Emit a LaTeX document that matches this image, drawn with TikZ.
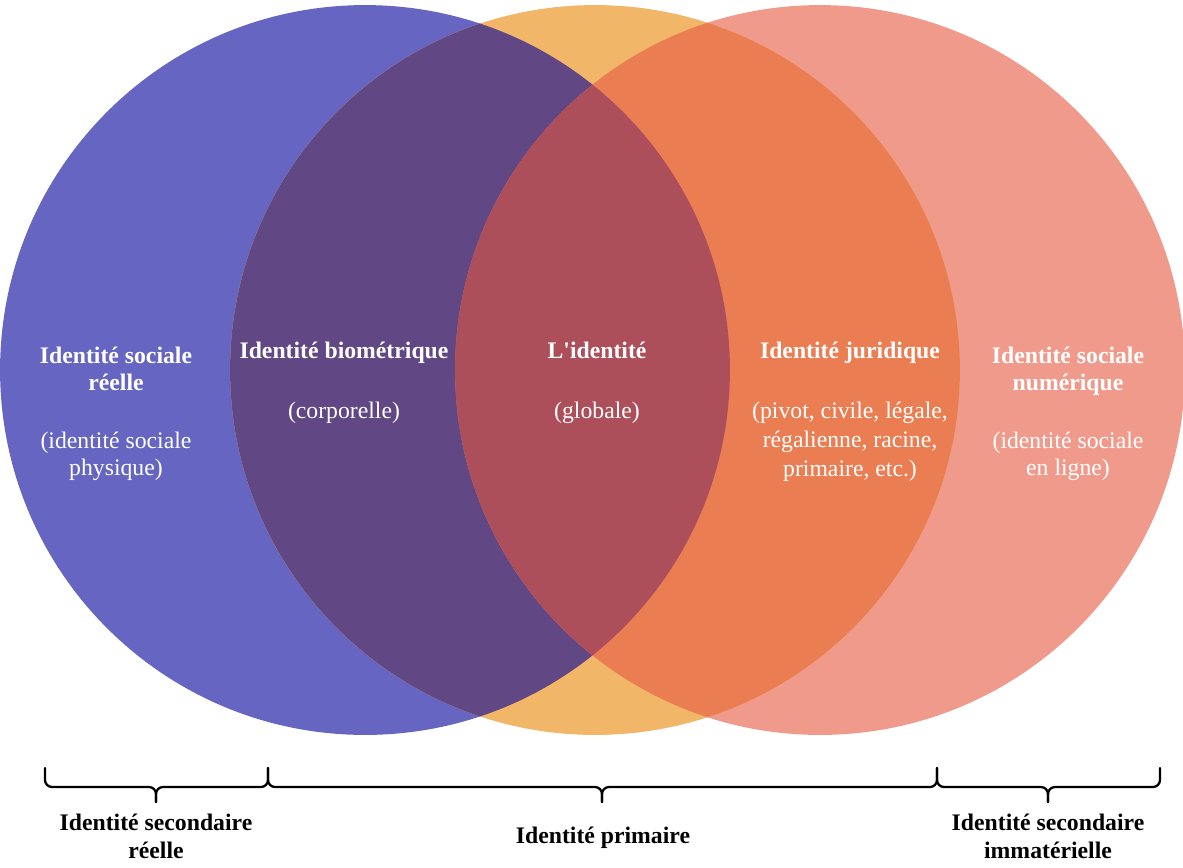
\documentclass[tikz,border=0pt]{standalone}
\usepackage{fontspec}
\setmainfont{Liberation Serif}
\definecolor{cBlue}{RGB}{102,102,194}
\definecolor{cPurple}{RGB}{97,71,132}
\definecolor{cOrange}{RGB}{242,182,104}
\definecolor{cRed}{RGB}{173,79,91}
\definecolor{cOrRed}{RGB}{235,125,82}
\definecolor{cSalmon}{RGB}{240,154,140}
\begin{document}
\begin{tikzpicture}[x=0.02cm,y=-0.02cm,
  intitle/.style={text=white,font=\bfseries\fontsize{13.5}{16}\selectfont,anchor=base,inner sep=0pt},
  insub/.style={text=white,font=\fontsize{13.5}{16}\selectfont,anchor=base,inner sep=0pt},
  outlabel/.style={text=black,font=\bfseries\fontsize{13.5}{16}\selectfont,anchor=base,inner sep=0pt},
  bracestyle/.style={draw=black,line width=1.3pt,rounded corners=4pt,line cap=round}]
\useasboundingbox (0,0) rectangle (1183,867);
\def\R{7.3cm}
% circle centres
\coordinate (cb) at (365,370);
\coordinate (co) at (595,370);
\coordinate (cs) at (820,370);
% base discs
\fill[cBlue] (cb) circle[radius=\R];
\fill[cSalmon] (cs) circle[radius=\R];
\fill[cOrange] (co) circle[radius=\R];
% overlaps
\begin{scope}
  \clip (cb) circle[radius=\R];
  \fill[cPurple] (co) circle[radius=\R];
\end{scope}
\begin{scope}
  \clip (cs) circle[radius=\R];
  \fill[cOrRed] (co) circle[radius=\R];
\end{scope}
\begin{scope}
  \clip (cb) circle[radius=\R];
  \clip (cs) circle[radius=\R];
  \fill[cRed] (co) circle[radius=\R];
\end{scope}
% texts in the regions
\node[intitle] (s1a) at (116,363) {Identité sociale};
\node[intitle] (s1b) at (116,390) {réelle};
\node[insub]   (s1c) at (116,448) {(identité sociale};
\node[insub]   (s1d) at (116,475) {physique)};
\node[intitle] (bioa) at (344,358) {Identité biométrique};
\node[insub]   (biob) at (344,418) {(corporelle)};
\node[intitle] (gla) at (597,358) {L\textquotesingle identité};
\node[insub]   (glb) at (597,418) {(globale)};
\node[intitle] (jua) at (850,358) {Identité juridique};
\node[insub]   (jub) at (850,418) {(pivot, civile, légale,};
\node[insub]   (juc) at (850,447) {régalienne, racine,};
\node[insub]   (jud) at (850,476) {primaire, etc.)};
\node[intitle] (s2a) at (1068,363) {Identité sociale};
\node[intitle] (s2b) at (1068,390) {numérique};
\node[insub]   (s2c) at (1068,448) {(identité sociale};
\node[insub]   (s2d) at (1068,475) {en ligne)};
% braces
\draw[bracestyle] (45,768) -- (45,787) -- (156,787) -- (156,802);
\draw[bracestyle] (268,768) -- (268,787) -- (156,787) -- (156,802);
\draw[bracestyle] (268,768) -- (268,787) -- (602,787) -- (602,802);
\draw[bracestyle] (937,768) -- (937,787) -- (602,787) -- (602,802);
\draw[bracestyle] (937,768) -- (937,787) -- (1048,787) -- (1048,802);
\draw[bracestyle] (1160,768) -- (1160,787) -- (1048,787) -- (1048,802);
% labels under the braces
\node[outlabel] (l1a) at (156,830) {Identité secondaire};
\node[outlabel] (l1b) at (156,858) {réelle};
\node[outlabel] (l2)  at (603,843) {Identité primaire};
\node[outlabel] (l3a) at (1048,830) {Identité secondaire};
\node[outlabel] (l3b) at (1048,858) {immatérielle};
\end{tikzpicture}
\end{document}
